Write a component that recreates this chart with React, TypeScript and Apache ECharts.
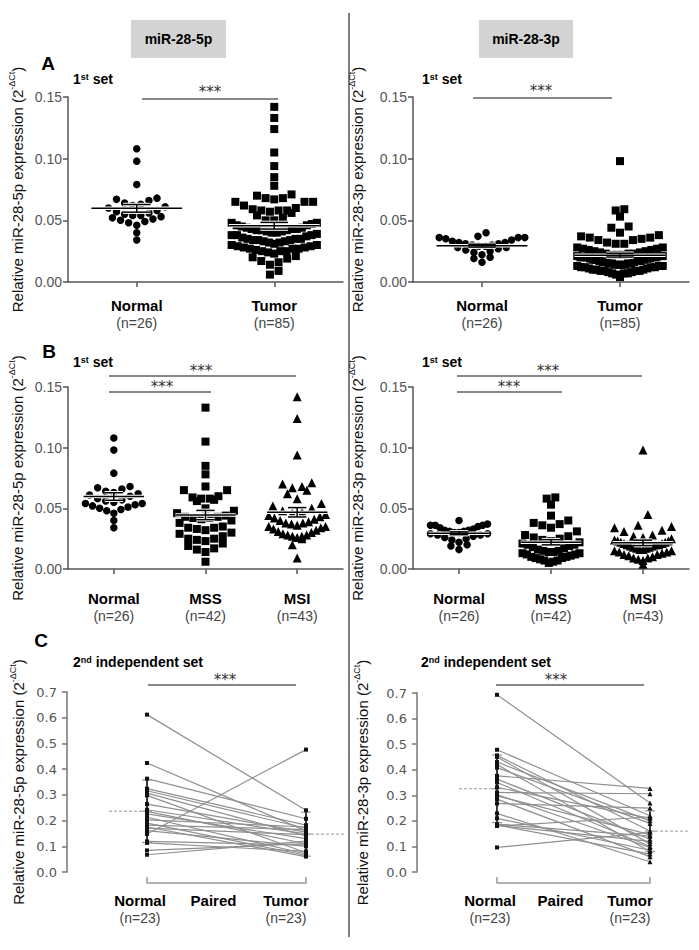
import React, { useEffect, useRef } from 'react';
import * as echarts from 'echarts';

// ---------------- data ----------------
const catsA = ['Normal', 'Tumor'];
const nA = ['(n=26)', '(n=85)'];
const catsB = ['Normal', 'MSS', 'MSI'];
const nB = ['(n=26)', '(n=42)', '(n=43)'];
const catsC = ['Normal', 'Paired', 'Tumor'];
const nC = ['(n=23)', ' ', '(n=23)'];

const normal5p = [0.108, 0.098, 0.079, 0.068, 0.067, 0.066, 0.064, 0.063, 0.062, 0.061, 0.060, 0.058, 0.057, 0.056, 0.055, 0.054, 0.054, 0.053, 0.052, 0.051, 0.050, 0.049, 0.048, 0.046, 0.040, 0.034];
const mss5p = [0.133, 0.105, 0.085, 0.078, 0.068, 0.065, 0.065, 0.060, 0.059, 0.058, 0.058, 0.057, 0.056, 0.050, 0.048, 0.046, 0.044, 0.043, 0.043, 0.042, 0.042, 0.041, 0.040, 0.038, 0.035, 0.034, 0.034, 0.033, 0.032, 0.030, 0.029, 0.027, 0.025, 0.025, 0.024, 0.023, 0.021, 0.019, 0.017, 0.016, 0.014, 0.006];
const msi5p = [0.142, 0.124, 0.094, 0.071, 0.070, 0.068, 0.067, 0.065, 0.062, 0.058, 0.054, 0.052, 0.050, 0.048, 0.047, 0.046, 0.045, 0.044, 0.043, 0.042, 0.041, 0.040, 0.039, 0.038, 0.038, 0.037, 0.036, 0.035, 0.035, 0.034, 0.033, 0.032, 0.031, 0.030, 0.029, 0.028, 0.028, 0.027, 0.027, 0.026, 0.025, 0.020, 0.009];

const normal3p = [0.040, 0.037, 0.036, 0.036, 0.036, 0.035, 0.034, 0.033, 0.032, 0.032, 0.031, 0.031, 0.030, 0.030, 0.029, 0.029, 0.028, 0.028, 0.027, 0.026, 0.025, 0.024, 0.022, 0.020, 0.019, 0.016];
const mss3p = [0.059, 0.058, 0.053, 0.044, 0.040, 0.038, 0.037, 0.036, 0.034, 0.031, 0.028, 0.027, 0.026, 0.025, 0.024, 0.023, 0.022, 0.021, 0.020, 0.020, 0.019, 0.018, 0.017, 0.016, 0.015, 0.015, 0.014, 0.014, 0.013, 0.013, 0.012, 0.012, 0.011, 0.010, 0.010, 0.009, 0.009, 0.008, 0.007, 0.007, 0.006, 0.005];
const msi3p = [0.098, 0.045, 0.036, 0.035, 0.034, 0.032, 0.031, 0.028, 0.027, 0.026, 0.025, 0.024, 0.023, 0.023, 0.022, 0.022, 0.021, 0.021, 0.020, 0.020, 0.020, 0.019, 0.019, 0.018, 0.018, 0.017, 0.017, 0.016, 0.016, 0.015, 0.015, 0.014, 0.014, 0.013, 0.012, 0.012, 0.011, 0.010, 0.009, 0.009, 0.008, 0.007, 0.004];

const tumor5p = mss5p.concat(msi5p);
const tumor3p = mss3p.concat(msi3p);

// 2nd independent set, paired samples (normal[i] -> tumor[i])
const pairNormal5p = [0.612, 0.424, 0.363, 0.324, 0.316, 0.307, 0.298, 0.264, 0.242, 0.236, 0.226, 0.213, 0.203, 0.190, 0.182, 0.175, 0.161, 0.148, 0.119, 0.113, 0.084, 0.067, 0.171];
const pairTumor5p = [0.240, 0.160, 0.207, 0.182, 0.170, 0.140, 0.075, 0.155, 0.148, 0.110, 0.130, 0.070, 0.175, 0.065, 0.165, 0.060, 0.100, 0.476, 0.105, 0.080, 0.110, 0.120, 0.145];
const pairNormal3p = [0.693, 0.478, 0.456, 0.450, 0.430, 0.420, 0.408, 0.376, 0.363, 0.331, 0.311, 0.303, 0.298, 0.285, 0.268, 0.229, 0.210, 0.187, 0.184, 0.182, 0.180, 0.096, 0.350];
const pairTumor3p = [0.270, 0.220, 0.160, 0.110, 0.200, 0.080, 0.190, 0.327, 0.128, 0.210, 0.306, 0.096, 0.146, 0.060, 0.250, 0.040, 0.085, 0.140, 0.070, 0.120, 0.215, 0.155, 0.100];

// ---------------- layout & style ----------------
const FONT = 'Liberation Sans, Arial, Helvetica, sans-serif';
const VFONT = 'DejaVu Sans, Verdana, sans-serif';
const AX = '#555';

const G = [
  { left: 68, top: 97, width: 275, height: 185 },   // A left
  { left: 413, top: 97, width: 276, height: 185 },  // A right
  { left: 68, top: 387, width: 275, height: 182 },  // B left
  { left: 413, top: 387, width: 276, height: 182 }, // B right
  { left: 147, top: 692, width: 159, height: 180 }, // C left
  { left: 497, top: 693, width: 153, height: 179 }, // C right
];

function stats(v: number[]) {
  const n = v.length;
  const m = v.reduce((a, b) => a + b, 0) / n;
  const sd = Math.sqrt(v.reduce((a, b) => a + (b - m) * (b - m), 0) / (n - 1));
  return { m, sd, sem: sd / Math.sqrt(n) };
}

// GraphPad-like row layout: values are binned into rows one marker high,
// each row is spread horizontally (compressed when wider than maxHalf)
function rowLayout(vals: number[], pxY: number, d: number, maxHalf: number): number[] {
  const bh = d * 1.35;
  const bins = new Map<number, number[]>();
  vals.forEach((v, i) => {
    const b = Math.round((v * pxY) / bh);
    if (!bins.has(b)) bins.set(b, []);
    bins.get(b)!.push(i);
  });
  const xs = new Array(vals.length).fill(0);
  bins.forEach(idx => {
    const n = idx.length;
    const sp = n > 1 ? Math.min(d * 1.08, (2 * maxHalf) / (n - 1)) : 0;
    const pos = Array.from({ length: n }, (_, j) => (j - (n - 1) / 2) * sp);
    pos.sort((a, b) => Math.abs(a) - Math.abs(b) || a - b);
    const sorted = idx.slice().sort((a, b) => vals[a] - vals[b]);
    sorted.forEach((i, j) => { xs[i] = pos[j]; });
  });
  return xs;
}

const L = (x1: number, y1: number, x2: number, y2: number, stroke: string, lw: number, dash?: number[]) => ({
  type: 'line', shape: { x1, y1, x2, y2 }, style: { stroke, lineWidth: lw, lineDash: dash },
});

function meanSemRender(_p: any, api: any) {
  const x = api.value(0), m = api.value(1), e = api.value(2);
  const c = api.coord([x, m]);
  const hi = api.coord([x, m + e]);
  const lo = api.coord([x, m - e]);
  const unit = api.size([1, 0])[0];
  const hw = unit * 0.33, cw = unit * 0.1;
  const segs = [
    [c[0] - hw, c[1], c[0] + hw, c[1]],
    [c[0], hi[1], c[0], lo[1]],
    [c[0] - cw, hi[1], c[0] + cw, hi[1]],
    [c[0] - cw, lo[1], c[0] + cw, lo[1]],
  ];
  return {
    type: 'group',
    children: [
      ...segs.map(s => L(s[0], s[1], s[2], s[3], '#fff', 3.5)),
      ...segs.map(s => L(s[0], s[1], s[2], s[3], '#000', 1.5)),
    ],
  };
}

function dotSeries(gi: number, valAxis: number, groups: number[][], symbols: string[], sizes: number[]) {
  const g = G[gi];
  const pxX = g.width / groups.length;
  const pxY = g.height / 0.15;
  const out: any[] = [];
  groups.forEach((vals, k) => {
    const off = rowLayout(vals, pxY, sizes[k], pxX * 0.31);
    out.push({
      type: 'scatter', xAxisIndex: valAxis, yAxisIndex: gi, silent: true,
      symbol: symbols[k], symbolSize: sizes[k], itemStyle: { color: '#000', opacity: 1 },
      data: vals.map((v, i) => [k + off[i] / pxX, v]), z: 2,
    });
  });
  out.push({
    type: 'custom', xAxisIndex: valAxis, yAxisIndex: gi, silent: true, clip: false, z: 3,
    renderItem: meanSemRender,
    data: groups.map((v, k) => { const s = stats(v); return [k, s.m, s.sem]; }),
  });
  return out;
}

function pairedSeries(gi: number, xi: number, normal: number[], tumor: number[], tumorSymbol: string) {
  const sN = stats(normal), sT = stats(tumor);
  return [
    {
      type: 'custom', xAxisIndex: xi, yAxisIndex: gi, silent: true, clip: false, z: 1,
      data: normal.map((n, i) => [0, n, tumor[i]]),
      renderItem: (_p: any, api: any) => {
        const a = api.coord([0, api.value(1)]);
        const b = api.coord([2, api.value(2)]);
        return L(a[0], a[1], b[0], b[1], '#8f8f8f', 1.2);
      },
    },
    {
      type: 'custom', xAxisIndex: xi, yAxisIndex: gi, silent: true, clip: false, z: 2,
      data: [[0, sN.m, sN.sd], [2, sT.m, sT.sd]],
      renderItem: (p: any, api: any) => {
        const x = api.value(0), m = api.value(1), e = api.value(2);
        const c = api.coord([x, m]);
        const hi = api.coord([x, m + e]);
        const lo = api.coord([x, m - e]);
        const side = p.dataIndex === 0 ? -1 : 1;
        return {
          type: 'group',
          children: [
            L(c[0], hi[1], c[0], lo[1], '#222', 1.8),
            L(c[0] - 5, hi[1], c[0] + 5, hi[1], '#999', 1.2),
            L(c[0] - 5, lo[1], c[0] + 5, lo[1], '#999', 1.2),
            L(c[0] - 5, c[1], c[0] + 5, c[1], '#999', 1.2),
            L(c[0], c[1], c[0] + side * 40, c[1], '#999', 1, [3, 2]),
          ],
        };
      },
    },
    {
      type: 'scatter', xAxisIndex: xi, yAxisIndex: gi, silent: true, z: 3,
      symbol: 'rect', symbolSize: 4, itemStyle: { color: '#111', opacity: 1 },
      data: normal.map(v => [0, v]),
    },
    {
      type: 'scatter', xAxisIndex: xi, yAxisIndex: gi, silent: true, z: 3,
      symbol: tumorSymbol, symbolSize: tumorSymbol === 'rect' ? 4 : 5, itemStyle: { color: '#111', opacity: 1 },
      data: tumor.map(v => [2, v]),
    },
  ];
}

const yName = (mir: string) => `Relative ${mir} expression (2{s|-ΔCt})`;
const nameStyle = {
  fontFamily: FONT, fontSize: 15, color: '#111', lineHeight: 20,
  rich: { s: { fontFamily: FONT, fontSize: 9, color: '#111', verticalAlign: 'top' } },
};

const yAB = (gi: number, mir: string, gap: number) => ({
  type: 'value', gridIndex: gi, min: 0, max: 0.15, interval: 0.05,
  name: yName(mir), nameLocation: 'middle', nameRotate: 90, nameGap: gap, nameTextStyle: nameStyle,
  axisLine: { show: true, onZero: false, lineStyle: { color: AX, width: 1.5 } },
  axisTick: { show: true, length: 5, lineStyle: { color: AX, width: 1.5 } },
  axisLabel: { fontFamily: FONT, fontSize: 14, color: '#555', margin: 6, formatter: (v: number) => v.toFixed(2) },
  splitLine: { show: false },
});

const yC = (gi: number, mir: string, gap: number) => ({
  type: 'value', gridIndex: gi, min: 0, max: 0.7, interval: 0.1, offset: 80,
  name: yName(mir), nameLocation: 'middle', nameRotate: 90, nameGap: gap, nameTextStyle: nameStyle,
  axisLine: { show: true, onZero: false, lineStyle: { color: '#777', width: 1.5 } },
  axisTick: { show: true, length: 5, lineStyle: { color: '#777', width: 1.5 } },
  axisLabel: { fontFamily: VFONT, fontSize: 13, color: '#555', margin: 10, formatter: (v: number) => v.toFixed(1) },
  splitLine: { show: false },
});

const labelRich = {
  b: { fontFamily: FONT, fontSize: 15, fontWeight: 'bold', color: '#000', lineHeight: 18 },
  n: { fontFamily: FONT, fontSize: 14, color: '#444', lineHeight: 18 },
};

const xCat = (gi: number, cats: string[], ns: string[], margin: number) => ({
  type: 'category', gridIndex: gi, data: cats, boundaryGap: true,
  axisLine: { show: true, onZero: false, lineStyle: { color: AX, width: 1.5 } },
  axisTick: { show: true, alignWithLabel: true, length: 5, lineStyle: { color: AX, width: 1.5 } },
  axisLabel: {
    interval: 0, margin,
    formatter: (v: string, i: number) => `{b|${v}}\n{n|${ns[i]}}`,
    rich: labelRich,
  },
  splitLine: { show: false },
});

const xVal = (gi: number, n: number) => ({
  type: 'value', gridIndex: gi, min: -0.5, max: n - 0.5, show: false,
  axisLine: { show: false, onZero: false }, splitLine: { show: false },
});

const cPad = [14, 26, 40];
const xC = (gi: number) => ({
  type: 'category', gridIndex: gi, data: catsC, boundaryGap: false, offset: 11,
  axisLine: { show: true, onZero: false, lineStyle: { color: '#999', width: 1.5 } },
  axisTick: { show: true, inside: true, length: 6, interval: (i: number) => i !== 1, lineStyle: { color: '#999', width: 1.5 } },
  axisLabel: {
    interval: 0, margin: 8,
    formatter: (v: string, i: number) => `{b${i}|${v}}\n{n${i}|${nC[i]}}`,
    rich: Object.fromEntries(
      cPad.flatMap((p, i) => [
        [`b${i}`, { ...labelRich.b, padding: [0, p, 0, 0] }],
        [`n${i}`, { ...labelRich.n, padding: [0, p, 0, 0] }],
      ])
    ),
  },
  splitLine: { show: false },
});

// ---------------- graphic annotations ----------------
function txt(x: number, y: number, text: string, o: any = {}) {
  const al = o.al || 'left';
  return {
    type: 'text', x, y, silent: true, z: 10,
    style: {
      text, fill: o.fill || '#000', fontFamily: o.ff || FONT, fontSize: o.fs || 14, fontWeight: o.fw || 'normal',
      align: al, textAlign: al, verticalAlign: 'middle', textVerticalAlign: 'middle', rich: o.rich,
    },
  };
}
const supRich = {
  a: { fontFamily: FONT, fontSize: 14, fontWeight: 'bold', fill: '#000', color: '#000' },
  s: { fontFamily: FONT, fontSize: 9, fontWeight: 'bold', fill: '#000', color: '#000', verticalAlign: 'top' },
};
const setTitle = (x: number, y: number, ord: string, sup: string, rest: string) =>
  txt(x, y, `{a|${ord}}{s|${sup}}{a|${rest}}`, { rich: supRich });
const sig = (x1: number, x2: number, y: number, sx: number, sy: number) => [
  { type: 'line', silent: true, shape: { x1, y1: y, x2, y2: y }, style: { stroke: '#111', lineWidth: 1.2 } },
  txt(sx, sy, '***', { al: 'center', fs: 15, ff: VFONT, fill: '#333' }),
];

const graphics: any[] = [
  { type: 'line', silent: true, shape: { x1: 349, y1: 13, x2: 349, y2: 937 }, style: { stroke: '#555', lineWidth: 1.5 } },
  { type: 'rect', silent: true, shape: { x: 131, y: 20, width: 95, height: 38 }, style: { fill: '#d3d3d3' } },
  { type: 'rect', silent: true, shape: { x: 479, y: 20, width: 94, height: 38 }, style: { fill: '#d3d3d3' } },
  txt(178.5, 39, 'miR-28-5p', { al: 'center', fs: 14, fw: 'bold' }),
  txt(526, 39, 'miR-28-3p', { al: 'center', fs: 14, fw: 'bold' }),
  txt(48, 63, 'A', { al: 'center', fs: 19, fw: 'bold' }),
  txt(49, 351, 'B', { al: 'center', fs: 19, fw: 'bold' }),
  txt(41, 640, 'C', { al: 'center', fs: 19, fw: 'bold' }),
  setTitle(73, 79, '1', 'st', ' set'),
  setTitle(422, 79, '1', 'st', ' set'),
  setTitle(73, 362, '1', 'st', ' set'),
  setTitle(422, 362, '1', 'st', ' set'),
  setTitle(73, 662, '2', 'nd', ' independent set'),
  setTitle(421, 662, '2', 'nd', ' independent set'),
  ...sig(142, 278, 99, 210, 92),
  ...sig(473, 612, 98, 541, 91),
  ...sig(109, 296, 376, 201, 371),
  ...sig(109, 211, 392, 162, 387),
  ...sig(457, 642, 376, 548, 371),
  ...sig(457, 562, 392, 509, 387),
  ...sig(148, 296, 685, 225, 680),
  ...sig(496, 644, 685, 556, 680),
];

function buildOption() {
  return {
    animation: false,
    backgroundColor: '#fff',
    grid: G.map(g => ({ ...g, containLabel: false, outerBoundsMode: 'none' })),
    xAxis: [
      xCat(0, catsA, nA, 14), xVal(0, 2),
      xCat(1, catsA, nA, 14), xVal(1, 2),
      xCat(2, catsB, nB, 20), xVal(2, 3),
      xCat(3, catsB, nB, 20), xVal(3, 3),
      xC(4), xC(5),
    ],
    yAxis: [
      yAB(0, 'miR-28-5p', 41),
      yAB(1, 'miR-28-3p', 46),
      yAB(2, 'miR-28-5p', 41),
      yAB(3, 'miR-28-3p', 46),
      yC(4, 'miR-28-5p', 39),
      yC(5, 'miR-28-3p', 45),
    ],
    series: [
      ...dotSeries(0, 1, [normal5p, tumor5p], ['circle', 'rect'], [7.5, 8]),
      ...dotSeries(1, 3, [normal3p, tumor3p], ['circle', 'rect'], [7.5, 8]),
      ...dotSeries(2, 5, [normal5p, mss5p, msi5p], ['circle', 'rect', 'triangle'], [7.5, 8, 9]),
      ...dotSeries(3, 7, [normal3p, mss3p, msi3p], ['circle', 'rect', 'triangle'], [7.5, 8, 9]),
      ...pairedSeries(4, 8, pairNormal5p, pairTumor5p, 'rect'),
      ...pairedSeries(5, 9, pairNormal3p, pairTumor3p, 'triangle'),
    ],
    graphic: graphics,
  };
}

export default function App() {
  const ref = useRef<HTMLDivElement>(null);
  useEffect(() => {
    const chart = echarts.init(ref.current!, null, { renderer: 'svg' });
    chart.setOption(buildOption() as any);
    return () => chart.dispose();
  }, []);
  return (
    <div
      ref={ref}
      style={{ position: 'absolute', left: 0, top: 0, width: 699, height: 950, background: '#fff' }}
    />
  );
}
